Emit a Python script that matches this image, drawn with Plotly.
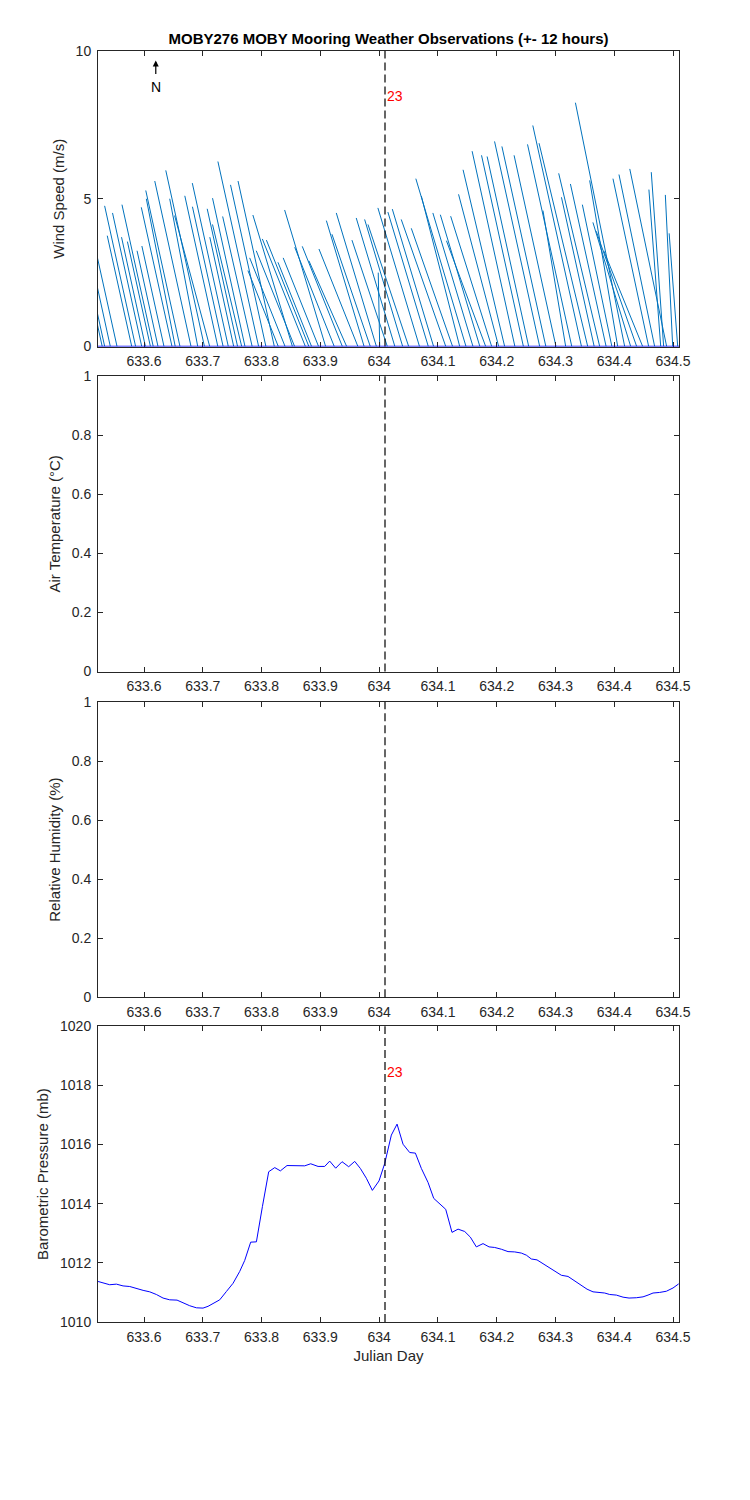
import plotly.graph_objects as go

# ---------------- data ----------------
wind_time = [633.5289, 633.5331, 633.5427, 633.5541, 633.5791, 633.5857, 633.5961, 633.6024,
             633.6109, 633.6157, 633.6238, 633.6340, 633.6476, 633.6531, 633.6612, 633.6800,
             633.6914, 633.7028, 633.7118, 633.7256, 633.7346, 633.7434, 633.7526, 633.7592,
             633.7662, 633.7718, 633.7840, 633.7950, 633.8074, 633.8217, 633.8285, 633.8400,
             633.8525, 633.8562, 633.8746, 633.8805, 633.8851, 633.8970, 633.9090, 633.9237,
             633.9375, 633.9448, 633.9639, 633.9745, 633.9850, 633.9954, 634.0010, 634.0140,
             634.0268, 634.0401, 634.0503, 634.0687, 634.0837, 634.0927, 634.1134, 634.1250,
             634.1371, 634.1478, 634.1597, 634.1714, 634.1813, 634.1915, 634.2034, 634.2136,
             634.2310, 634.2455, 634.2545, 634.2732, 634.2837, 634.3009, 634.3174, 634.3278,
             634.3443, 634.3549, 634.3659, 634.3753, 634.3862, 634.3960, 634.4059, 634.4178,
             634.4280, 634.4382, 634.4484, 634.4586, 634.4688, 634.4791, 634.4841, 634.4892,
             634.4995, 634.5080]
wind_u = [-0.33, -0.44, -0.57, -0.73, -0.83, -1.05, -0.99, -0.81,
          -0.78, -1.06, -0.71, -0.75, -1.04, -0.98, -1.16, -1.23,
          -0.95, -1.31, -1.19, -1.12, -1.04, -1.22, -0.81, -1.03,
          -0.99, -1.10, -1.00, -1.38, -1.20, -1.23, -1.03, -1.20,
          -1.34, -1.30, -1.46, -1.44, -1.14, -1.20, -1.39, -1.34,
          -1.36, -1.28, -1.32, -1.28, -1.30, -1.36, -0.05, -1.20,
          -1.31, -1.29, -1.38, -1.41, -1.37, -1.40, -1.51, -1.40,
          -1.30, -1.70, -1.36, -1.34, -1.33, -1.39, -1.36, -1.41,
          -1.45, -1.42, -1.41, -1.53, -1.49, -1.42, -0.77, -1.50,
          -1.65, -1.65, -1.11, -1.39, -1.21, -1.00, -0.95, -1.67,
          -1.28, -1.37, -1.32, -1.21, -1.21, -0.40, -0.42, -1.25,
          -0.25, -0.29]
wind_v = [1.50, 2.00, 2.60, 3.30, 3.75, 4.76, 4.52, 3.70,
          3.55, 4.80, 3.24, 3.40, 4.71, 5.00, 5.28, 5.60,
          5.00, 5.96, 4.43, 5.10, 4.73, 5.53, 3.70, 4.66,
          4.13, 5.02, 4.40, 6.26, 5.47, 5.60, 2.57, 3.00,
          4.45, 3.24, 3.64, 3.60, 2.85, 3.00, 4.62, 3.36,
          3.39, 2.90, 3.30, 4.26, 3.80, 4.52, 2.50, 3.60,
          4.35, 4.30, 4.13, 4.69, 4.55, 4.65, 4.30, 4.00,
          5.09, 5.68, 4.52, 4.46, 3.58, 4.41, 5.15, 5.98,
          6.61, 6.47, 6.43, 6.94, 6.77, 6.47, 4.60, 6.84,
          7.48, 6.88, 5.05, 5.86, 5.50, 4.80, 5.62, 8.25,
          4.20, 3.90, 3.24, 5.68, 5.82, 5.31, 5.90, 6.01,
          5.13, 3.83]

pres_time = [633.5218, 633.5331, 633.5416, 633.5530, 633.5643, 633.5757, 633.5870, 633.5984,
             633.6097, 633.6210, 633.6324, 633.6437, 633.6562, 633.6664, 633.6777, 633.6891,
             633.7004, 633.7089, 633.7174, 633.7288, 633.7401, 633.7515, 633.7628, 633.7713,
             633.7815, 633.7912, 633.8014, 633.8121, 633.8224, 633.8320, 633.8433, 633.8592,
             633.8734, 633.8836, 633.8961, 633.9074, 633.9159, 633.9261, 633.9369, 633.9482,
             633.9585, 633.9681, 633.9783, 633.9885, 633.9998, 634.0095, 634.0208, 634.0305,
             634.0407, 634.0520, 634.0617, 634.0719, 634.0832, 634.0929, 634.1031, 634.1133,
             634.1240, 634.1343, 634.1456, 634.1552, 634.1654, 634.1768, 634.1870, 634.1966,
             634.2080, 634.2193, 634.2307, 634.2420, 634.2505, 634.2590, 634.2686, 634.2789,
             634.2902, 634.3015, 634.3101, 634.3214, 634.3327, 634.3441, 634.3537, 634.3639,
             634.3753, 634.3838, 634.3923, 634.4036, 634.4150, 634.4252, 634.4376, 634.4490,
             634.4575, 634.4660, 634.4773, 634.4887, 634.5000, 634.5097]
pres_mb = [1011.37, 1011.31, 1011.26, 1011.28, 1011.22, 1011.20, 1011.13, 1011.07,
           1011.02, 1010.93, 1010.81, 1010.75, 1010.74, 1010.64, 1010.55, 1010.48,
           1010.47, 1010.53, 1010.62, 1010.75, 1011.03, 1011.31, 1011.71, 1012.08,
           1012.70, 1012.71, 1013.90, 1015.08, 1015.22, 1015.11, 1015.29, 1015.28,
           1015.28, 1015.35, 1015.26, 1015.26, 1015.44, 1015.20, 1015.42, 1015.25,
           1015.43, 1015.19, 1014.86, 1014.45, 1014.77, 1015.36, 1016.32, 1016.69,
           1016.01, 1015.73, 1015.71, 1015.19, 1014.72, 1014.18, 1013.98, 1013.81,
           1013.03, 1013.14, 1013.06, 1012.87, 1012.54, 1012.65, 1012.54, 1012.52,
           1012.46, 1012.38, 1012.37, 1012.33, 1012.26, 1012.13, 1012.10, 1011.97,
           1011.83, 1011.70, 1011.58, 1011.54, 1011.39, 1011.25, 1011.11, 1011.02,
           1011.00, 1010.98, 1010.93, 1010.91, 1010.84, 1010.81, 1010.82, 1010.85,
           1010.91, 1010.98, 1011.00, 1011.04, 1011.15, 1011.29]

x_tick_vals = [633.6, 633.7, 633.8, 633.9, 634.0, 634.1, 634.2, 634.3, 634.4, 634.5]
x_tick_text = ["633.6", "633.7", "633.8", "633.9", "634", "634.1", "634.2", "634.3", "634.4", "634.5"]
x_range = [633.5217, 634.5102]

wind_ticks = [0, 5, 10]
frac_ticks = [0, 0.2, 0.4, 0.6, 0.8, 1]
frac_tick_text = ["0", "0.2", "0.4", "0.6", "0.8", "1"]
pres_ticks = [1010, 1012, 1014, 1016, 1018, 1020]

event_time = 634.010
event_label = "23"
north_label = "N"

title_text = "MOBY276 MOBY Mooring Weather Observations (+- 12 hours)"
y_titles = ["Wind Speed (m/s)", "Air Temperature (°C)", "Relative Humidity (%)", "Barometric Pressure (mb)"]
x_title = "Julian Day"

# ---------------- styling ----------------
FONT = "Arial, 'Liberation Sans', Helvetica, sans-serif"
AXC = "#262626"
stick_scale = 0.0502  # days per m/s so the stick angle matches screen geometry

fig = go.Figure()

sx, sy = [], []
for t, u, v in zip(wind_time, wind_u, wind_v):
    sx += [t, t + u * stick_scale, None]
    sy += [0, v, None]
fig.add_trace(go.Scatter(x=sx, y=sy, mode="lines", line=dict(color="#0072BD", width=1),
                         xaxis="x", yaxis="y", showlegend=False, hoverinfo="skip"))
fig.add_trace(go.Scatter(x=[], y=[], xaxis="x2", yaxis="y2", showlegend=False))
fig.add_trace(go.Scatter(x=[], y=[], xaxis="x3", yaxis="y3", showlegend=False))
fig.add_trace(go.Scatter(x=pres_time, y=pres_mb, mode="lines", line=dict(color="#0000FF", width=1),
                         xaxis="x4", yaxis="y4", showlegend=False))

domains = [[0.7675, 1.0], [0.5118, 0.7441], [0.2555, 0.4878], [0.0, 0.2327]]
y_ranges = [[0, 10], [0, 1], [0, 1], [1010, 1020]]
y_tv = [wind_ticks, frac_ticks, frac_ticks, pres_ticks]
y_tt = [[str(v) for v in wind_ticks], frac_tick_text, frac_tick_text, [str(v) for v in pres_ticks]]

tickfont = dict(family=FONT, size=14, color=AXC)
layout = {}
for i in range(4):
    sfx = "" if i == 0 else str(i + 1)
    xa = dict(domain=[0, 1], range=x_range, tickmode="array", tickvals=x_tick_vals, ticktext=x_tick_text,
              ticks="inside", ticklen=5, tickcolor=AXC, showline=True, linecolor=AXC, linewidth=1,
              mirror="ticks", showgrid=False, zeroline=False, anchor="y" + sfx, tickfont=tickfont,
              ticklabelstandoff=2)
    if i == 3:
        xa["title"] = dict(text=x_title, font=dict(family=FONT, size=15, color=AXC), standoff=6)
    ya = dict(domain=domains[i], range=y_ranges[i], tickmode="array", tickvals=y_tv[i], ticktext=y_tt[i],
              ticks="inside", ticklen=5, tickcolor=AXC, showline=True, linecolor=AXC, linewidth=1,
              mirror="ticks", showgrid=False, zeroline=False, anchor="x" + sfx, tickfont=tickfont,
              ticklabelstandoff=3,
              title=dict(text=y_titles[i], font=dict(family=FONT, size=15, color=AXC), standoff=7))
    layout["xaxis" + sfx] = xa
    layout["yaxis" + sfx] = ya

shapes = []
for i in range(4):
    sfx = "" if i == 0 else str(i + 1)
    shapes.append(dict(type="line", xref="x" + sfx, x0=event_time, x1=event_time,
                       yref="y" + sfx + " domain", y0=0, y1=1,
                       line=dict(color="black", width=1.2, dash="8px,4px")))
shapes.append(dict(type="line", xref="x domain", x0=0, x1=1, yref="y", y0=0, y1=0,
                   line=dict(color="#0000FF", width=1.5)))

annotations = [
    dict(x=event_time, y=8.48, xref="x", yref="y", text=event_label, showarrow=False,
         xanchor="left", yanchor="middle", xshift=0, font=dict(family=FONT, size=14, color="#FF0000")),
    dict(x=event_time, y=1018.45, xref="x4", yref="y4", text=event_label, showarrow=False,
         xanchor="left", yanchor="middle", xshift=0, font=dict(family=FONT, size=14, color="#FF0000")),
    dict(x=633.62, y=8.78, xref="x", yref="y", text=north_label, showarrow=False,
         xanchor="center", yanchor="middle", font=dict(family=FONT, size=14, color="black")),
    dict(x=633.62, y=9.68, xref="x", yref="y", ax=633.62, ay=9.17, axref="x", ayref="y",
         text="", showarrow=True, arrowhead=2, arrowsize=1, arrowwidth=1.2, arrowcolor="black"),
]

# The page body has an 8px default margin, so the margins are offset by 8px.
fig.update_layout(
    width=750, height=1500,
    margin=dict(l=90.3, r=78.7, t=42.7, b=185.7),
    paper_bgcolor="white", plot_bgcolor="white",
    title=dict(text="<b>" + title_text + "</b>", x=0.5, xref="paper", xanchor="center",
               y=1 - 31 / 1500, yref="container", yanchor="middle",
               font=dict(family=FONT, size=15, color="black")),
    shapes=shapes, annotations=annotations,
    **layout,
)

fig.write_html("out.html")
